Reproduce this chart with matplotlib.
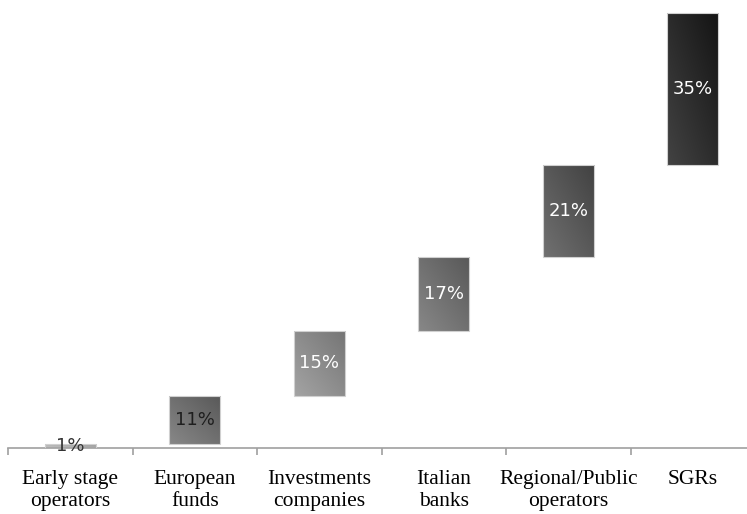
import numpy as np
import matplotlib.pyplot as plt

categories = ["Early stage\noperators", "European\nfunds", "Investments\ncompanies",
              "Italian\nbanks", "Regional/Public\noperators", "SGRs"]
shares = [1, 11, 15, 17, 21, 35]
bar_grays = [0.68, 0.44, 0.55, 0.44, 0.35, 0.17]
label_colors = ["#333333", "#1e1e1e", "white", "white", "white", "white"]

starts = np.concatenate([[0], np.cumsum(shares)[:-1]])

fig = plt.figure(figsize=(7.47, 5.14), dpi=100)
ax = fig.add_axes([8 / 747, 66 / 514, 739 / 747, 448 / 514])

x = np.arange(len(categories))
bars = ax.bar(x, shares, bottom=starts, width=0.41, color="none",
              edgecolor="#d0d0d0", linewidth=0.8, zorder=3)

# diagonal shading inside each bar, lighter at lower left
for rect, g in zip(bars, bar_grays):
    x0, y0 = rect.get_x(), rect.get_y()
    w, h = rect.get_width(), rect.get_height()
    u, v = np.meshgrid(np.linspace(0, 1, 30), np.linspace(0, 1, 30))
    shade = g + 0.09 * (0.5 - (u + v) / 2) * 2
    img = np.clip(np.dstack([shade] * 3), 0, 1)
    im = ax.imshow(img, extent=(x0, x0 + w, y0, y0 + h), origin="lower",
                   aspect="auto", interpolation="bilinear", zorder=2)
    im.set_clip_path(rect)

for xi, s, b, c in zip(x, shares, starts, label_colors):
    ax.text(xi, b + s / 2, f"{s}%", ha="center", va="center", color=c,
            fontsize=13, family="DejaVu Sans", zorder=4)

for side in ["top", "right", "left"]:
    ax.spines[side].set_visible(False)
ax.spines["bottom"].set_color("#a0a0a0")
ax.spines["bottom"].set_linewidth(1.2)
ax.set_yticks([])

ax.set_xticks(x)
ax.set_xticklabels(categories, family="Liberation Serif", fontsize=15.5,
                   linespacing=1.2)
ax.tick_params(axis="x", which="major", length=0, pad=16)
ax.set_xticks(np.arange(-0.5, 6, 1), minor=True)
ax.tick_params(axis="x", which="minor", length=5, color="#a0a0a0", width=1.2)

# limits last: set_xticks would widen them otherwise
ax.set_xlim(-0.5, -0.5 + 739 / 124.5)
ax.set_ylim(0, 103)

fig.savefig("out.png", dpi=100)
